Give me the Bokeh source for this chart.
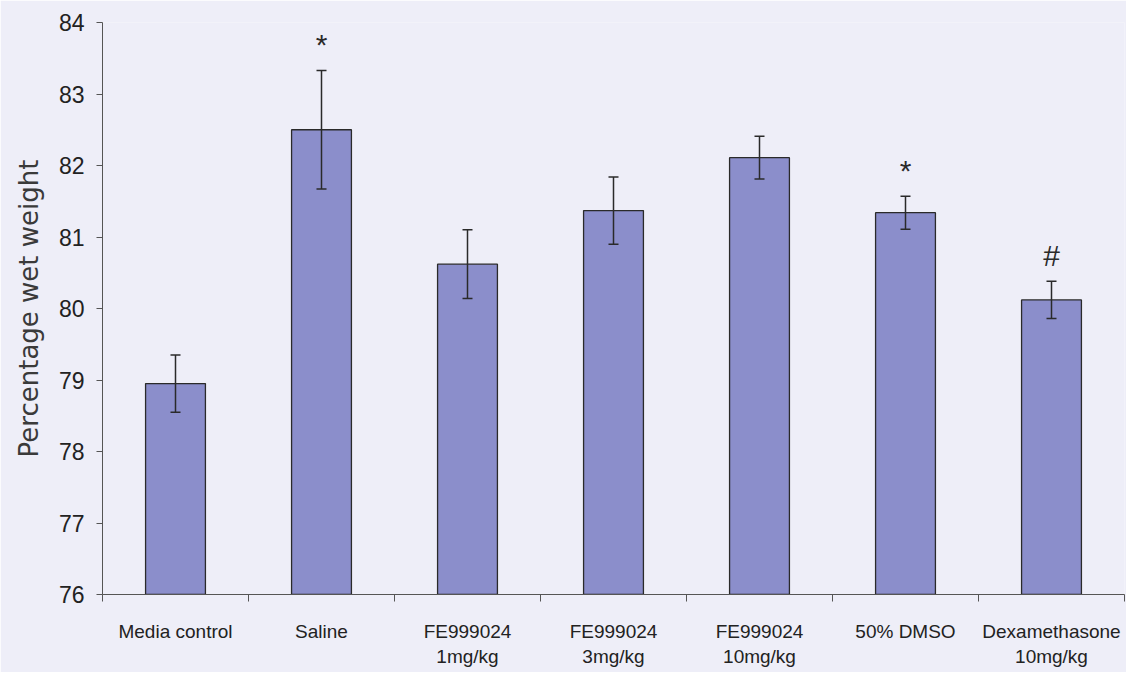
from bokeh.plotting import figure
from bokeh.models import ColumnDataSource, Range1d, FixedTicker, LinearAxis, Whisker, TeeHead
from bokeh.core.properties import value
from bokeh.embed import file_html
from bokeh.resources import INLINE

categories = ["Media control", "Saline", "FE999024\n1mg/kg", "FE999024\n3mg/kg",
              "FE999024\n10mg/kg", "50% DMSO", "Dexamethasone\n10mg/kg"]
means = [78.95, 82.50, 80.62, 81.37, 82.11, 81.34, 80.12]
errors = [0.40, 0.83, 0.48, 0.47, 0.30, 0.23, 0.26]
marks = ["", "*", "", "", "", "*", "#"]
y_ticks = [76, 77, 78, 79, 80, 81, 82, 83, 84]

BG = "#eeeef8"
BAR = "#8b8ecb"
DARK = "#2a2a2a"
NARROW = "Liberation Sans Narrow, Arial Narrow, Liberation Sans"

n = len(categories)
xc = [i + 0.5 for i in range(n)]
src = ColumnDataSource(dict(
    x=xc, top=means,
    upper=[m + e for m, e in zip(means, errors)],
    lower=[m - e for m, e in zip(means, errors)],
    mark=marks,
    mark_y=[m + e + 0.36 for m, e in zip(means, errors)],
))

p = figure(width=1126, height=672, output_backend="svg", toolbar_location=None,
           x_range=Range1d(0, n), y_range=Range1d(76, 84),
           background_fill_color=BG, border_fill_color=BG,
           min_border_left=102, min_border_right=2, min_border_top=22, min_border_bottom=78,
           outline_line_color=None)
p.xgrid.visible = False
p.ygrid.visible = False

p.vbar(x="x", top="top", bottom=76, width=0.41, source=src,
       fill_color=BAR, line_color=DARK, line_width=1.3)

w = Whisker(base="x", upper="upper", lower="lower", source=src, level="overlay",
            line_color=DARK, line_width=1.5,
            upper_head=TeeHead(size=10, line_color=DARK, line_width=1.5),
            lower_head=TeeHead(size=10, line_color=DARK, line_width=1.5))
p.add_layout(w)

p.text(x="x", y="mark_y", text="mark", source=src, text_align="center",
       text_baseline="middle", text_font=value("Liberation Sans"),
       text_font_size="30px", text_color=DARK)

# x axis: boundary ticks
xa = p.xaxis[0]
xa.ticker = FixedTicker(ticks=list(range(n + 1)))
xa.major_label_overrides = {i: "" for i in range(n + 1)}
xa.major_label_text_font_size = "1px"
xa.major_label_standoff = 0
xa.major_tick_out = 7
xa.major_tick_in = 0
xa.minor_tick_line_color = None
xa.axis_line_color = "#555555"
xa.major_tick_line_color = "#555555"

# category labels axis
xl = LinearAxis(ticker=FixedTicker(ticks=xc),
                major_label_overrides={x: c for x, c in zip(xc, categories)},
                axis_line_color=None, major_tick_line_color=None,
                minor_tick_line_color=None, major_label_standoff=13,
                major_label_text_font=NARROW, major_label_text_font_size="19px",
                major_label_text_color="#222222")
p.add_layout(xl, "below")

ya = p.yaxis[0]
ya.ticker = FixedTicker(ticks=y_ticks)
ya.major_tick_out = 6
ya.major_tick_in = 0
ya.minor_tick_line_color = None
ya.axis_line_color = "#555555"
ya.major_tick_line_color = "#555555"
ya.major_label_text_font = NARROW
ya.major_label_text_font_size = "23px"
ya.major_label_text_color = "#222222"
ya.major_label_standoff = 12
ya.axis_label = "Percentage wet weight"
ya.axis_label_text_font = "DejaVu Sans"
ya.axis_label_text_font_style = "normal"
ya.axis_label_text_font_size = "26px"
ya.axis_label_text_color = "#3a3a3a"
ya.axis_label_standoff = 12

open("out.html", "w").write(file_html(p, INLINE))
